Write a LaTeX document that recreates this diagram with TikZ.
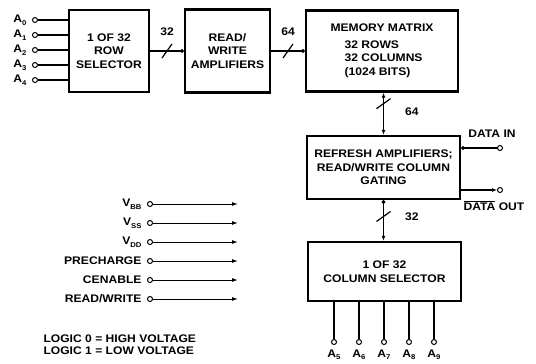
\documentclass[tikz,border=0pt]{standalone}
\usepackage{fontspec}
\setmainfont{Liberation Sans}[FakeStretch=1.1]
\usetikzlibrary{arrows.meta,positioning}
\newcommand{\sbs}[1]{\raisebox{-2.5bp}{\fontsize{7bp}{7bp}\selectfont #1}}

\begin{document}
\begin{tikzpicture}[x=1bp,y=-1bp,
	every node/.style={font=\fontsize{11bp}{13.5bp}\selectfont\bfseries},
	blk/.style={draw, line width=2.4bp, align=center, inner sep=0pt},
	port/.style={draw, circle, line width=1bp, minimum size=5bp, inner sep=0pt, fill=white},
	wire/.style={line width=1.5bp},
	sig/.style={line width=1bp, -{Latex[length=6bp,width=4bp]}},
	tick/.style={line width=1.2bp}]
					\useasboundingbox (0,0) rectangle (536,363);
					\node[blk, minimum width=80bp, minimum height=82bp] (rowsel) at (109,51) {1 OF 32\\ROW\\SELECTOR};
					\node[blk, minimum width=85bp, minimum height=83bp] (rwamp) at (227.5,51) {READ/\\WRITE\\AMPLIFIERS};
					\node[blk, minimum width=152bp, minimum height=81bp, align=left] (memmat) at (382,51) {MEMORY MATRIX\\[3bp]\hspace*{14bp}32 ROWS\\\hspace*{14bp}32 COLUMNS\\\hspace*{14bp}(1024 BITS)};
					\node[blk, minimum width=153bp, minimum height=63bp] (refresh) at (383.5,167.5) {REFRESH AMPLIFIERS;\\READ/WRITE COLUMN\\GATING};
					\node[blk, minimum width=153bp, minimum height=59bp] (colsel) at (384.5,271.5) {1 OF 32\\COLUMN SELECTOR};
					\foreach \i/\y in {0/20,1/35,2/50,3/65,4/80} {
						\node[port] (a\i) at (35,\y) {};
						\node[left=2bp of a\i] {A\sbs{\i}};
						\draw[wire] (a\i) -- (a\i -| rowsel.west);
					}
					\draw[wire, -{Circle[length=3.5bp]}] (rowsel) -- coordinate[pos=0.5] (b32) (rwamp);
					\draw[tick] (b32) +(-5,7) -- +(5,-7);
					\node[above=12bp of b32] {32};
					\draw[wire, -{Circle[length=3.5bp]}] (rwamp) -- coordinate[pos=0.5] (b64) (memmat);
					\draw[tick] (b64) +(-5,7) -- +(5,-7);
					\node[above=12bp of b64] {64};
					\draw[wire, {Latex[length=5bp,width=4bp]}-{Latex[length=5bp,width=4bp]}] (refresh.north |- memmat.south) -- coordinate[pos=0.26] (v64) (refresh.north);
					\draw[tick] (v64) +(-7,5) -- +(7,-5);
					\node[right=18bp of v64, yshift=-8bp] {64};
					\draw[wire, {Circle[length=3.5bp]}-{Latex[length=5bp,width=4bp]}] (refresh.south) -- coordinate[pos=0.4] (v32) (refresh.south |- colsel.north);
					\draw[tick] (v32) +(-7,5) -- +(7,-5);
					\node[right=18bp of v32] {32};
					\node[port] (din) at (500,148) {};
					\node[above=4bp of din, xshift=-8bp] {DATA IN};
					\draw[wire, {Circle[length=3.5bp]}-] (din -| refresh.east) -- (din);
					\node[port] (dout) at (500,190) {};
					\node[below=4bp of dout, xshift=-6bp] {\(\overline{\mbox{DATA}}\) OUT};
					\draw[wire, -{Latex[length=5bp,width=4bp]}] (dout -| refresh.east) -- (dout);
					\foreach \i/\x in {5/334,6/359,7/384,8/409,9/434} {
						\node[port] (c\i) at (\x,342) {};
						\node[below=1bp of c\i] {A\sbs{\i}};
						\draw[wire] (c\i |- colsel.south) -- (c\i);
					}
					\foreach \n/\t/\y in {bb/{V\sbs{BB}}/204,ss/{V\sbs{SS}}/223,dd/{V\sbs{DD}}/242,pc/{PRECHARGE}/261,ce/{CENABLE}/280,rw/{READ/WRITE}/299} {
						\node[port] (p\n) at (150,\y) {};
						\coordinate (q\n) at (238,\y);
						\node[left=2bp of p\n] {\t};
						\draw[sig] (p\n) -- (q\n);
					}
					\node[align=left, anchor=north west, font=\fontsize{11bp}{12bp}\selectfont\bfseries] (logic) at (40,331) {LOGIC 0 = HIGH VOLTAGE\\LOGIC 1 = LOW VOLTAGE};
				\end{tikzpicture}
\end{document}
